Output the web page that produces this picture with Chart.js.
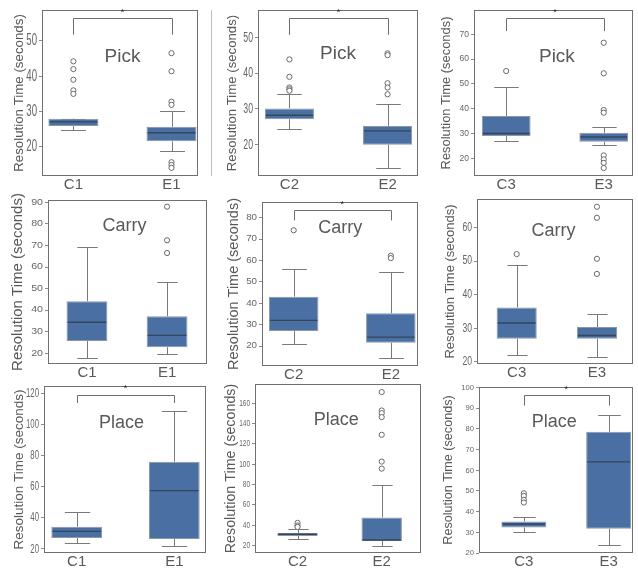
<!DOCTYPE html>
<html>
<head>
<meta charset="utf-8">
<script src="https://cdn.jsdelivr.net/npm/chart.js@4"></script>
<style>
body { margin: 0; background: #fff; width: 638px; height: 569px; position: relative; overflow: hidden; }
canvas { position: absolute; }
.sep { position: absolute; width: 1px; background: #bdbdbd; }
</style>
</head>
<body>
<div class="sep" style="left:211px;top:10px;height:166px"></div>
<script>
// one entry per panel, reading order (rows Pick / Carry / Place)
const panelTitles = ['Pick', 'Pick', 'Pick', 'Carry', 'Carry', 'Carry', 'Place', 'Place', 'Place'];
const categories = [['C1', 'E1'], ['C2', 'E2'], ['C3', 'E3'], ['C1', 'E1'], ['C2', 'E2'], ['C3', 'E3'], ['C1', 'E1'], ['C2', 'E2'], ['C3', 'E3']];
const whiskerLow = [[24.9, 18.8], [24.2, 13.3], [26.9, 25.2], [18, 19.5], [20.8, 14.4], [22, 21.4], [23.6, 22.1], [26.3, 19.7], [30.3, 24]];
const q1 = [[25.9, 21.6], [27.1, 19.9], [29, 26.7], [25.7, 22.8], [27, 21.6], [26.9, 26.9], [27, 26.4], [29.6, 24.6], [32.3, 31.7]];
const medians = [[27.1, 24], [28.2, 23.8], [30, 28.6], [34.4, 28.3], [32, 24.2], [31.6, 27.9], [31.3, 57.4], [31.2, 25.5], [34, 64.1]];
const q3 = [[28, 25.7], [30.1, 25.2], [37.1, 30.3], [44.1, 37.1], [43.1, 35.3], [36.2, 30.4], [34.3, 76], [32.5, 47.7], [35.2, 78.6]];
const whiskerHigh = [[28, 30.1], [34.1, 31.3], [48.9, 32.6], [69.1, 52.9], [56, 54.4], [49, 34.4], [43.5, 108.7], [36.8, 79.5], [37.3, 86.6]];
const outliers = [
    [[44.2, 42, 39, 36, 35], [46.5, 41.4, 32.8, 31.9, 15.7, 14.9, 14.1]],
    [[43.9, 39, 36, 35.5, 35.1], [45.6, 45.1, 37.2, 36, 34.1]],
    [[55.2], [66.6, 54.3, 39.5, 38.4, 21.2, 19.6, 18.2, 16.1]],
    [[], [88, 72.4, 66.5]],
    [[74.1], [62.2, 61.1]],
    [[52.1], [66.2, 62.9, 50.7, 46.2]],
    [[], []],
    [[42.4, 39.8, 38.4], [170.8, 152.7, 150.1, 146.2, 128.8, 102.5, 95.6]],
    [[48.9, 47.6, 45.7, 44.4], []]
];
const yTicks = [
    [20, 30, 40, 50],
    [20, 30, 40, 50],
    [20, 30, 40, 50, 60, 70],
    [20, 30, 40, 50, 60, 70, 80, 90],
    [20, 30, 40, 50, 60, 70, 80],
    [20, 30, 40, 50, 60],
    [20, 40, 60, 80, 100, 120],
    [20, 40, 60, 80, 100, 120, 140, 160],
    [20, 30, 40, 50, 60, 70, 80, 90, 100]
];
const yRange = [[11.8, 58.7], [11.1, 57.8], [12.9, 79.8], [15, 91.1], [10.7, 87.3], [19.4, 68.5], [17.4, 124.5], [12.8, 178.7], [20, 100.3]];
// significance bracket [leg end, bar height], null when absent
const brackets = [[51.7, 56.4], [50.8, 55.5], [71.3, 76.6], null, [78.7, 83.7], null, [113.6, 119], null, [91.3, 96.3]];

// page layout of each panel (pixels), text sizes and the horizontal squeeze of tick labels
const layout = [
    {L: 42, T: 10, R: 201, B: 176, x0: 74, x1: 174, titleCx: 19, titleSize: 13.3, tickSize: 16, tickSx: 0.6, boxFrac: 0.51, labelX: 0.5, labelY: 45.5, labelSize: 19},
    {L: 258, T: 10, R: 421, B: 176, x0: 290, x1: 390, titleCx: 232, titleSize: 13.2, tickSize: 15, tickSx: 0.58, boxFrac: 0.5, labelX: 0.495, labelY: 45.4, labelSize: 19},
    {L: 474, T: 10, R: 637, B: 176, x0: 507, x1: 607, titleCx: 447, titleSize: 12.9, tickSize: 8.5, tickSx: 1.0, boxFrac: 0.5, labelX: 0.52, labelY: 61, labelSize: 19},
    {L: 48, T: 200, R: 210, B: 364, x0: 87.7, x1: 169.3, titleCx: 17.5, titleSize: 15, tickSize: 8.5, tickSx: 1.25, boxFrac: 0.51, labelX: 0.47, labelY: 79.1, labelSize: 18},
    {L: 262, T: 202, R: 421, B: 366, x0: 294.3, x1: 393.3, titleCx: 234, titleSize: 14.5, tickSize: 8.5, tickSx: 1.15, boxFrac: 0.51, labelX: 0.48, labelY: 75, labelSize: 18},
    {L: 477, T: 199, R: 637, B: 364, x0: 517.7, x1: 600, titleCx: 450.7, titleSize: 13, tickSize: 12, tickSx: 0.72, boxFrac: 0.5, labelX: 0.46, labelY: 59.1, labelSize: 18},
    {L: 44, T: 386, R: 206, B: 553, x0: 76.7, x1: 174.3, titleCx: 19, titleSize: 13.5, tickSize: 13, tickSx: 0.6, boxFrac: 0.52, labelX: 0.46, labelY: 100.6, labelSize: 18},
    {L: 255, T: 384, R: 424, B: 553, x0: 298.3, x1: 384, titleCx: 230.5, titleSize: 14.3, tickSize: 9, tickSx: 0.72, boxFrac: 0.48, labelX: 0.46, labelY: 143.3, labelSize: 18},
    {L: 479, T: 387, R: 637, B: 553, x0: 525, x1: 612, titleCx: 449, titleSize: 12.6, tickSize: 8, tickSx: 0.95, boxFrac: 0.53, labelX: 0.36, labelY: 83.2, labelSize: 18}
];

const SANS = "'Liberation Sans', Arial, sans-serif";
const BOX_FILL = '#4a6fa3';
const TEXT = '#595959';

const boxPlugin = {
    id: 'boxExtras',
    beforeDatasetsDraw(chart, args, o) {
        const {ctx, scales: {x, y}} = chart;
        const k = o.panel;
        ctx.save();
        ctx.strokeStyle = '#7a7a7a';
        ctx.lineWidth = 1;
        categories[k].forEach(function (c, i) {
            const cx = Math.round(x.getPixelForValue(i)) + 0.5;
            const cap = x.getPixelForValue(i + o.boxFrac / 4) - x.getPixelForValue(i);
            const lo = Math.round(y.getPixelForValue(whiskerLow[k][i])) + 0.5;
            const hi = Math.round(y.getPixelForValue(whiskerHigh[k][i])) + 0.5;
            ctx.beginPath();
            ctx.moveTo(cx, y.getPixelForValue(q3[k][i]));
            ctx.lineTo(cx, hi);
            ctx.moveTo(cx - cap, hi);
            ctx.lineTo(cx + cap, hi);
            ctx.moveTo(cx, y.getPixelForValue(q1[k][i]));
            ctx.lineTo(cx, lo);
            ctx.moveTo(cx - cap, lo);
            ctx.lineTo(cx + cap, lo);
            ctx.stroke();
        });
        ctx.restore();
    },
    afterDatasetsDraw(chart, args, o) {
        const {ctx, scales: {x, y}} = chart;
        const k = o.panel;
        ctx.save();
        // medians
        ctx.strokeStyle = '#33465c';
        ctx.lineWidth = 1.4;
        categories[k].forEach(function (c, i) {
            const half = x.getPixelForValue(i + o.boxFrac / 2) - x.getPixelForValue(i);
            const cx = x.getPixelForValue(i);
            const m = y.getPixelForValue(medians[k][i]);
            ctx.beginPath();
            ctx.moveTo(cx - half + 1, m);
            ctx.lineTo(cx + half - 1, m);
            ctx.stroke();
        });
        // significance bracket
        const br = brackets[k];
        if (br) {
            const a = Math.round(x.getPixelForValue(0)) + 0.5;
            const b = Math.round(x.getPixelForValue(1)) + 0.5;
            const low = y.getPixelForValue(br[0]);
            const top = Math.round(y.getPixelForValue(br[1])) + 0.5;
            ctx.strokeStyle = '#6e6e6e';
            ctx.lineWidth = 1;
            ctx.beginPath();
            ctx.moveTo(a, low);
            ctx.lineTo(a, top);
            ctx.lineTo(b, top);
            ctx.lineTo(b, low);
            ctx.stroke();
        }
        // panel title
        ctx.fillStyle = TEXT;
        ctx.font = o.labelSize + 'px ' + SANS;
        ctx.textAlign = 'center';
        ctx.textBaseline = 'middle';
        ctx.fillText(panelTitles[k], x.getPixelForValue(o.labelX), y.getPixelForValue(o.labelY));
        ctx.restore();
    },
    afterDraw(chart, args, o) {
        const {ctx, chartArea: a, scales: {x, y}} = chart;
        const k = o.panel;
        ctx.save();
        ctx.strokeStyle = '#707070';
        ctx.lineWidth = 1;
        ctx.strokeRect(Math.round(a.left) + 0.5, Math.round(a.top) + 0.5, Math.round(a.width) - 1, Math.round(a.height) - 1);
        // y tick labels, squeezed like the source figure
        ctx.fillStyle = '#666';
        ctx.font = o.tickSize + 'px ' + SANS;
        ctx.textAlign = 'right';
        ctx.textBaseline = 'middle';
        yTicks[k].forEach(function (v) {
            ctx.save();
            ctx.translate(a.left - 5, y.getPixelForValue(v));
            ctx.scale(o.tickSx, 1);
            ctx.fillText(String(v), 0, 0);
            ctx.restore();
        });
        if (brackets[k]) {
            ctx.fillStyle = '#222';
            ctx.font = '9px ' + SANS;
            ctx.textAlign = 'center';
            ctx.fillText('*', (x.getPixelForValue(0) + x.getPixelForValue(1)) / 2, a.top + 3);
        }
        ctx.restore();
    }
};

layout.forEach(function (p, k) {
    const lh = p.titleSize * 1.2;
    const left = Math.round(p.titleCx - lh / 2);
    const top = Math.max(0, p.T - 10);
    const bottom = Math.min(569, p.B + 22);
    const right = Math.min(638, p.R + 2);
    const cv = document.createElement('canvas');
    cv.width = right - left;
    cv.height = bottom - top;
    cv.style.left = left + 'px';
    cv.style.top = top + 'px';
    document.body.appendChild(cv);

    const d = p.x1 - p.x0;
    const yWidth = p.L - left;
    const xHeight = bottom - p.B;

    new Chart(cv, {
        type: 'bar',
        data: {
            datasets: [{
                type: 'bar',
                data: categories[k].map(function (c, i) { return {x: i, y: [q1[k][i], q3[k][i]]}; }),
                backgroundColor: BOX_FILL,
                borderColor: '#8d96a3',
                borderWidth: 1,
                borderSkipped: false,
                barPercentage: p.boxFrac,
                categoryPercentage: 1
            }, {
                type: 'scatter',
                data: outliers[k].flatMap(function (arr, i) { return arr.map(function (v) { return {x: i, y: v}; }); }),
                pointRadius: 2.6,
                pointBackgroundColor: '#ffffff',
                pointBorderColor: '#6a6a6a',
                pointBorderWidth: 1
            }]
        },
        options: {
            responsive: false,
            animation: false,
            events: [],
            layout: {padding: {top: p.T - top, right: right - p.R, left: 0, bottom: 0}},
            scales: {
                x: {
                    type: 'linear',
                    offset: false,
                    bounds: 'data',
                    min: -(p.x0 - p.L) / d,
                    max: 1 + (p.R - p.x1) / d,
                    afterBuildTicks: function (s) { s.ticks = categories[k].map(function (c, i) { return {value: i}; }); },
                    afterFit: function (s) { s.height = xHeight; },
                    grid: {display: false, drawTicks: false, offset: false},
                    border: {display: false},
                    ticks: {
                        padding: 0,
                        color: TEXT,
                        font: {size: 15, family: SANS},
                        maxRotation: 0,
                        callback: function (v) { return categories[k][v]; }
                    }
                },
                y: {
                    type: 'linear',
                    beginAtZero: false,
                    bounds: 'data',
                    min: yRange[k][0],
                    max: yRange[k][1],
                    afterBuildTicks: function (s) { s.ticks = yTicks[k].map(function (v) { return {value: v}; }); },
                    afterFit: function (s) { s.width = yWidth; },
                    grid: {drawOnChartArea: false, drawTicks: true, tickLength: 3, color: '#8a8a8a'},
                    border: {display: false},
                    ticks: {display: false},
                    title: {
                        display: true,
                        text: 'Resolution Time (seconds)',
                        color: TEXT,
                        padding: 0,
                        font: {size: p.titleSize, family: SANS}
                    }
                }
            },
            plugins: {
                legend: {display: false},
                tooltip: {enabled: false},
                boxExtras: {panel: k, boxFrac: p.boxFrac, labelX: p.labelX, labelY: p.labelY, labelSize: p.labelSize, tickSize: p.tickSize, tickSx: p.tickSx}
            }
        },
        plugins: [boxPlugin]
    });
});
</script>
</body>
</html>
